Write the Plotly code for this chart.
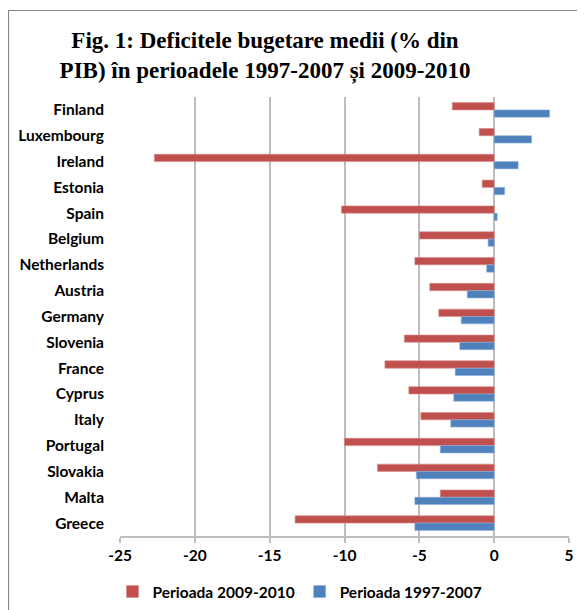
import plotly.graph_objects as go

countries = ["Finland", "Luxembourg", "Ireland", "Estonia", "Spain", "Belgium",
             "Netherlands", "Austria", "Germany", "Slovenia", "France", "Cyprus",
             "Italy", "Portugal", "Slovakia", "Malta", "Greece"]
deficit_2009_2010 = [-2.8, -1.0, -22.7, -0.8, -10.2, -5.0, -5.3, -4.3, -3.7, -6.0,
                     -7.3, -5.7, -4.9, -10.0, -7.8, -3.6, -13.3]
deficit_1997_2007 = [3.7, 2.5, 1.6, 0.7, 0.2, -0.4, -0.5, -1.8, -2.2, -2.3,
                     -2.6, -2.7, -2.9, -3.6, -5.2, -5.3, -5.3]
x_ticks = [-25, -20, -15, -10, -5, 0, 5]

RED = "#C0504D"
BLUE = "#4F81BD"
GRID = "#BDBDBD"
AXIS = "#A0A0A0"
LABEL_FONT = dict(family="Lato, 'Open Sans', sans-serif", size=15.5, color="#000000", weight="bold")

fig = go.Figure()
fig.add_trace(go.Bar(
    y=countries, x=deficit_2009_2010, orientation="h", name="Perioada 2009-2010",
    marker=dict(color=RED, line=dict(color="#D88A88", width=0.6)),
))
fig.add_trace(go.Bar(
    y=countries, x=deficit_1997_2007, orientation="h", name="Perioada 1997-2007",
    marker=dict(color=BLUE, line=dict(color="#8DAEDA", width=0.6)),
))

# page has an 8px body margin; figure coordinates = page coordinates - OFF
OFF = 8
W, H = 585 - OFF, 610 - OFF
PL, PR, PT, PB = 120, 569, 97, 536          # plot area in page pixels
ml, mr, mt, mb = PL - OFF, W - (PR - OFF), PT - OFF, H - (PB - OFF)
pw, ph = W - ml - mr, H - mt - mb

def px_x(p):
    return (p - OFF - ml) / pw

def px_y(p):
    return (H - mb - (p - OFF)) / ph

fig.update_layout(
    width=W, height=H,
    margin=dict(l=ml, r=mr, t=mt, b=mb, pad=0, autoexpand=False),
    paper_bgcolor="white", plot_bgcolor="white",
    barmode="group", bargap=0.434, bargroupgap=0,
    title=dict(
        text="Fig. 1: Deficitele bugetare medii (% din<br>PIB) în perioadele 1997-2007 și 2009-2010",
        font=dict(family="'Liberation Serif', 'Times New Roman', serif", size=23,
                  color="#000000", weight="bold"),
        x=(265 - OFF) / W, xanchor="center", xref="container",
        y=1 - 40 / H, yanchor="top", yref="container",
    ),
    xaxis=dict(
        range=[-25, 5], tickvals=x_ticks, ticktext=[str(v) for v in x_ticks],
        showgrid=True, gridcolor=GRID, gridwidth=1.6,
        zeroline=False, automargin=False,
        showline=True, linecolor=GRID, linewidth=1.6,
        ticks="outside", ticklen=5, tickcolor=GRID, tickwidth=1.6,
        tickfont=LABEL_FONT, fixedrange=True,
    ),
    yaxis=dict(
        categoryorder="array", categoryarray=countries, autorange="reversed",
        showgrid=False, zeroline=False, showline=False, ticks="", automargin=False,
        tickfont=LABEL_FONT, ticklabelstandoff=15,
    ),
    yaxis2=dict(
        matches="y", overlaying="y", anchor="free", position=25 / 30, automargin=False,
        showline=True, linecolor=AXIS, linewidth=1.6,
        ticks="outside", tickson="boundaries", ticklen=5, tickcolor=AXIS, tickwidth=1.4,
        showticklabels=False, showgrid=False, zeroline=False,
    ),
    legend=dict(
        orientation="h", x=px_x(300), xanchor="center", y=px_y(592), yanchor="middle",
        font=LABEL_FONT, itemwidth=30, traceorder="normal",
    ),
    shapes=[dict(
        type="rect", xref="paper", yref="paper",
        x0=px_x(8.5), x1=px_x(600), y0=px_y(625), y1=px_y(10.5),
        line=dict(color="#868686", width=1.2), fillcolor="rgba(0,0,0,0)", layer="above",
    )],
    showlegend=True,
)

fig.write_html("out.html")
